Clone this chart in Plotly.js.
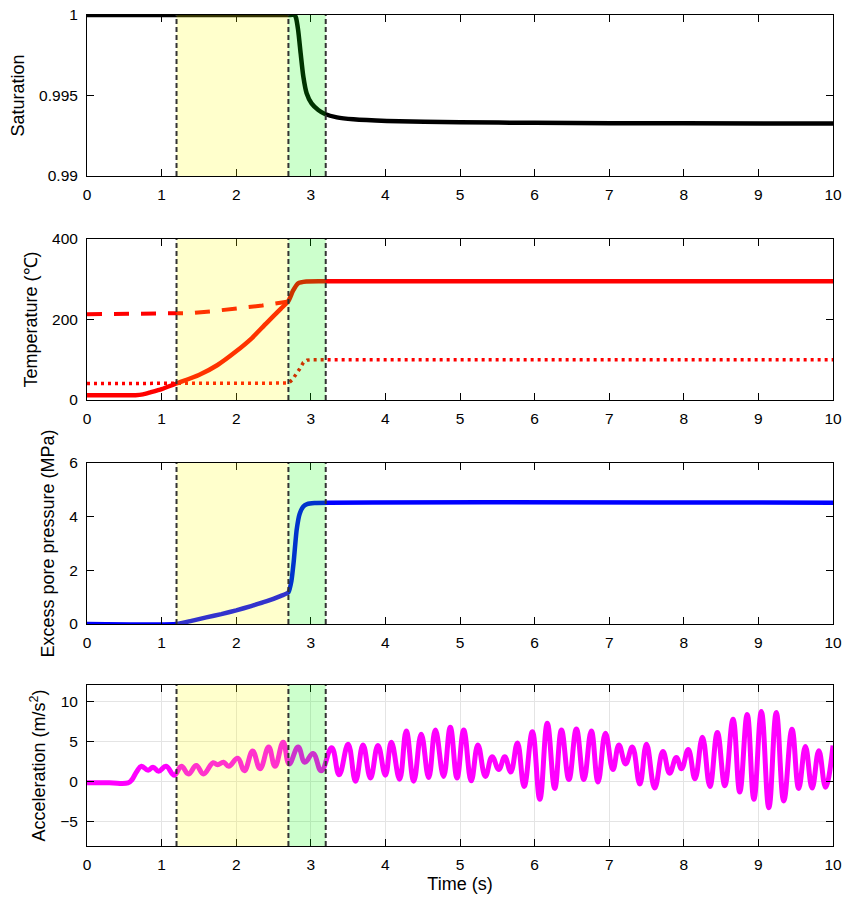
<!DOCTYPE html>
<html>
<head>
<meta charset="utf-8">
<script src="https://cdn.plot.ly/plotly-3.0.1.min.js"></script>
<style>html,body{margin:0;padding:0;background:#fff;}#chart{width:843px;height:902px;}</style>
</head>
<body>
<div id="chart"></div>
<script>
// ---------- Data ----------
const satTime = [0, 1, 2, 2.5, 2.7, 2.78, 2.80, 2.83, 2.864, 2.90, 2.944, 3.01, 3.10, 3.19, 3.35, 3.57, 4.02, 5, 6, 8, 10];
const satValue = [1, 1, 1, 1, 1, 1, 0.99985, 0.99907, 0.99762, 0.99617, 0.99514, 0.99451, 0.99410, 0.99385, 0.99364, 0.99352, 0.99342, 0.99334, 0.99330, 0.99327, 0.99326];

const tempSolidTime = [0, 0.3, 0.65, 0.75, 0.85, 1.0, 1.2, 1.5, 1.75, 2.0, 2.2, 2.4, 2.6, 2.7, 2.76, 2.83, 2.94, 3.2, 10];
const tempSolidValue = [12, 12, 12, 14, 19, 27, 41, 62, 87, 121, 152, 190, 227, 246, 271, 290, 294.5, 295, 295];
const tempDashTime = [0, 1.2, 1.4, 1.7, 2.0, 2.35, 2.7];
const tempDashValue = [213, 213.5, 216, 221, 227, 235, 245];
const tempDotTime = [0, 2.7, 2.75, 2.8, 2.85, 2.9, 2.95, 3.0, 10];
const tempDotValue = [41, 42, 50, 62, 77, 93, 99, 100, 100];

const presTime = [0, 1.2, 1.4, 1.6, 1.8, 2.0, 2.2, 2.4, 2.6, 2.7, 2.74, 2.77, 2.81, 2.85, 2.9, 2.95, 3.05, 10];
const presValue = [0, 0, 0.12, 0.25, 0.37, 0.51, 0.67, 0.84, 1.05, 1.18, 1.6, 2.3, 3.5, 4.1, 4.38, 4.47, 4.51, 4.52];

const accTime = [0, 0.3, 0.55, 0.6, 0.67, 0.73, 0.82, 0.885, 0.96, 1.06, 1.17, 1.265, 1.36, 1.465, 1.56, 1.69, 1.75, 1.83, 1.90,
  2.02, 2.11, 2.22, 2.32, 2.435, 2.52, 2.63, 2.71, 2.83, 2.92, 3.03, 3.14, 3.28, 3.38, 3.50, 3.60, 3.70, 3.80, 3.90, 4.00,
  4.08, 4.19, 4.28, 4.38, 4.48, 4.58, 4.67, 4.78, 4.87, 4.96, 5.05, 5.15, 5.24, 5.34, 5.43, 5.52, 5.60, 5.68, 5.77, 5.86,
  5.97, 6.07, 6.17, 6.27, 6.36, 6.46, 6.56, 6.66, 6.76, 6.85, 6.95, 7.05, 7.13, 7.22, 7.31, 7.41, 7.50, 7.61, 7.72, 7.81,
  7.90, 7.97, 8.06, 8.15, 8.25, 8.35, 8.45, 8.55, 8.66, 8.75, 8.85, 8.94, 9.04, 9.14, 9.24, 9.34, 9.45, 9.54, 9.63, 9.72,
  9.81, 9.90, 10.0];
const accValue = [-0.15, -0.15, -0.15, 0.2, 1.3, 1.9, 1.4, 1.8, 1.3, 1.9, 0.8, 1.9, 0.95, 2.0, 0.95, 2.35, 2.1, 2.4, 1.9,
  2.9, 1.35, 3.8, 1.6, 4.3, 1.9, 4.9, 2.2, 4.3, 2.4, 3.5, 1.35, 4.2, 0.85, 4.65, 0.05, 4.55, 0.45, 4.5, 0.8,
  4.9, 0.3, 6.3, 0.05, 5.9, 0.5, 6.4, 0.65, 6.75, 0.45, 6.4, 0.1, 4.55, 0.65, 3.1, 1.5, 3.1, 1.2, 4.8, -0.6,
  6.2, -2.2, 7.25, -0.85, 6.4, 0.25, 6.55, 0.25, 6.3, -0.05, 6.0, 1.5, 4.55, 2.2, 4.3, -0.3, 4.65, -0.8, 3.75, 1.05,
  3.0, 1.6, 4.0, 0.35, 5.5, -0.6, 6.1, -0.5, 7.75, -1.3, 8.35, -2.2, 8.7, -3.25, 8.6, -2.4, 6.5, -0.85, 4.35, -0.8,
  3.85, -0.7, 4.5];

const xTicks = [0, 1, 2, 3, 4, 5, 6, 7, 8, 9, 10];
const satTicks = [0.99, 0.995, 1];
const satTickText = ['0.99', '0.995', '1'];
const tempTicks = [0, 200, 400];
const presTicks = [0, 2, 4, 6];
const accTicks = [-5, 0, 5, 10];
const stageBounds = [1.2, 2.7, 3.2];

// ---------- Traces ----------
const traces = [
  {x: satTime, y: satValue, xaxis: 'x', yaxis: 'y', mode: 'lines', line: {color: '#000000', width: 4.5, shape: 'spline', smoothing: 0.6}},
  {x: tempSolidTime, y: tempSolidValue, xaxis: 'x2', yaxis: 'y2', mode: 'lines', line: {color: '#ff0000', width: 4.5, shape: 'spline', smoothing: 0.5}},
  {x: tempDashTime, y: tempDashValue, xaxis: 'x2', yaxis: 'y2', mode: 'lines', line: {color: '#ff0000', width: 4, dash: '15px,12px'}},
  {x: tempDotTime, y: tempDotValue, xaxis: 'x2', yaxis: 'y2', mode: 'lines', line: {color: '#ff0000', width: 3.5, dash: '3px,4px'}},
  {x: presTime, y: presValue, xaxis: 'x3', yaxis: 'y3', mode: 'lines', line: {color: '#0000ff', width: 4.5, shape: 'spline', smoothing: 0.5}},
  {x: accTime, y: accValue, xaxis: 'x4', yaxis: 'y4', mode: 'lines', line: {color: '#ff00ff', width: 5, shape: 'spline', smoothing: 1.2}}
];

// ---------- Layout ----------
const font = {family: 'Liberation Sans, Arial, sans-serif', size: 15, color: '#000'};
function xAxis(anchor, showGrid, title) {
  const a = {
    domain: [0, 1], anchor: anchor, range: [0, 10], tickvals: xTicks,
    showline: true, linecolor: '#000', linewidth: 1, mirror: 'allticks',
    ticks: 'inside', ticklen: 7, tickcolor: '#000', zeroline: false,
    showgrid: showGrid, gridcolor: '#e4e4e4', gridwidth: 1,
    tickfont: {size: 15.5}, ticklabelstandoff: 4, fixedrange: true
  };
  if (title) a.title = {text: title, font: {size: 18}, standoff: 5};
  return a;
}
function yAxis(anchor, domain, range, tickvals, title, showGrid, ticktext) {
  const a = {
    domain: domain, anchor: anchor, range: range, tickvals: tickvals,
    showline: true, linecolor: '#000', linewidth: 1, mirror: 'allticks',
    ticks: 'inside', ticklen: 7, tickcolor: '#000', zeroline: false,
    showgrid: showGrid, gridcolor: '#e4e4e4', gridwidth: 1,
    tickfont: {size: 15.5}, ticklabelstandoff: 5,
    title: {text: title, font: {size: 18}, standoff: 9}, fixedrange: true
  };
  if (ticktext) a.ticktext = ticktext;
  return a;
}

const shapes = [];
const yrefs = ['y', 'y2', 'y3', 'y4'];
const xrefs = ['x', 'x2', 'x3', 'x4'];
for (let i = 0; i < 4; i++) {
  shapes.push({type: 'rect', xref: xrefs[i], yref: yrefs[i] + ' domain', x0: stageBounds[0], x1: stageBounds[1], y0: 0, y1: 1,
    fillcolor: 'rgba(255,255,0,0.2)', line: {width: 0}, layer: 'above'});
  shapes.push({type: 'rect', xref: xrefs[i], yref: yrefs[i] + ' domain', x0: stageBounds[1], x1: stageBounds[2], y0: 0, y1: 1,
    fillcolor: 'rgba(0,255,0,0.2)', line: {width: 0}, layer: 'above'});
  stageBounds.forEach(b => {
    shapes.push({type: 'line', xref: xrefs[i], yref: yrefs[i] + ' domain', x0: b, x1: b, y0: 0, y1: 1,
      line: {color: '#333', width: 2, dash: '5px,3px'}, layer: 'above'});
  });
}

const layout = {
  width: 843, height: 902,
  margin: {l: 87, r: 10, t: 15, b: 56},
  paper_bgcolor: '#fff', plot_bgcolor: '#fff',
  font: font, showlegend: false,
  xaxis: xAxis('y', false),
  xaxis2: xAxis('y2', false),
  xaxis3: xAxis('y3', false),
  xaxis4: xAxis('y4', true, 'Time (s)'),
  yaxis: yAxis('x', [0.8063, 1], [0.99, 1], satTicks, 'Saturation', false, satTickText),
  yaxis2: yAxis('x2', [0.5367, 0.7304], [0, 400], tempTicks, 'Temperature (\u2103)', false),
  yaxis3: yAxis('x3', [0.2671, 0.4609], [0, 6], presTicks, 'Excess pore pressure (MPa)', false),
  yaxis4: yAxis('x4', [0, 0.1937], [-8, 12], accTicks, 'Acceleration (m/s<sup>2</sup>)', true),
  shapes: shapes
};

Plotly.newPlot('chart', traces, layout, {displayModeBar: false, staticPlot: true});
</script>
</body>
</html>
